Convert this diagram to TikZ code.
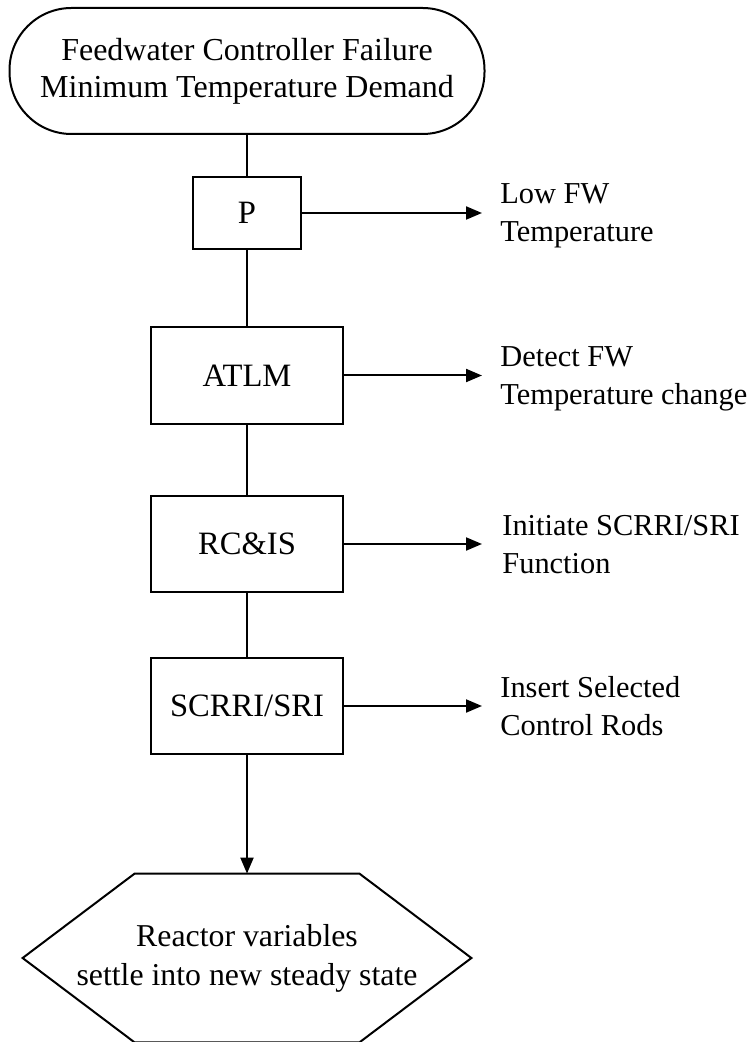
\documentclass[tikz,border=0pt]{standalone}
\usepackage{fontspec}
\setmainfont{Liberation Serif}
\usetikzlibrary{arrows.meta}

\begin{document}
\begin{tikzpicture}[x=0.5pt,y=0.5pt,yscale=-1,xscale=1,
  box/.style={draw, line width=1pt, inner sep=0pt, font=\fontsize{16.3}{20}\selectfont},
  lbl/.style={anchor=base west, inner sep=0pt, align=left, font=\fontsize{15.2}{19}\selectfont},
  conn/.style={line width=1pt},
  arr/.style={line width=1pt, -{Triangle[length=8pt,width=6.5pt]}}]
%set diagram left start at 0, and has height of 1042
\useasboundingbox (0,0) rectangle (754,1042);

\node [box, rounded corners=31pt, minimum width=237.5pt, minimum height=63pt, align=center, font=\fontsize{16}{18.5}\selectfont] (fail) at (247,71) {Feedwater Controller Failure\\Minimum Temperature Demand};

\node [box, minimum width=54pt, minimum height=36pt] (p) at (247,213) {P};
\node [box, minimum width=96pt, minimum height=48pt] (atlm) at (247,375.5) {ATLM};
\node [box, minimum width=96pt, minimum height=48pt] (rcis) at (247,544) {RC\&IS};
\node [box, minimum width=96pt, minimum height=48pt] (scrri) at (247,706) {SCRRI/SRI};

\node [inner sep=0pt, minimum width=224pt, minimum height=84pt, align=center, font=\fontsize{15.9}{19.5}\selectfont] (goal) at (247,958) {Reactor variables\\settle into new steady state};
\draw [conn] (goal.west) -- ([xshift=56pt]goal.north west) -- ([xshift=-56pt]goal.north east) -- (goal.east) -- ([xshift=-56pt]goal.south east) -- ([xshift=56pt]goal.south west) -- cycle;

\node [lbl] (lowfw) at (500,242) {Low FW\\Temperature};
\node [lbl] (detect) at (500,405) {Detect FW\\Temperature change};
\node [lbl] (initiate) at (502,573) {Initiate SCRRI/SRI\\Function};
\node [lbl] (insert) at (500,735) {Insert Selected\\Control Rods};

\draw [conn] (fail) -- (p);
\draw [conn] (p) -- (atlm);
\draw [conn] (atlm) -- (rcis);
\draw [conn] (rcis) -- (scrri);
\draw [arr] (scrri) -- (goal.north);

\draw [arr, shorten >=9pt] (p) -- (p -| lowfw.west);
\draw [arr, shorten >=9pt] (atlm) -- (atlm -| detect.west);
\draw [arr, shorten >=10pt] (rcis) -- (rcis -| initiate.west);
\draw [arr, shorten >=9pt] (scrri) -- (scrri -| insert.west);

\end{tikzpicture}
\end{document}
